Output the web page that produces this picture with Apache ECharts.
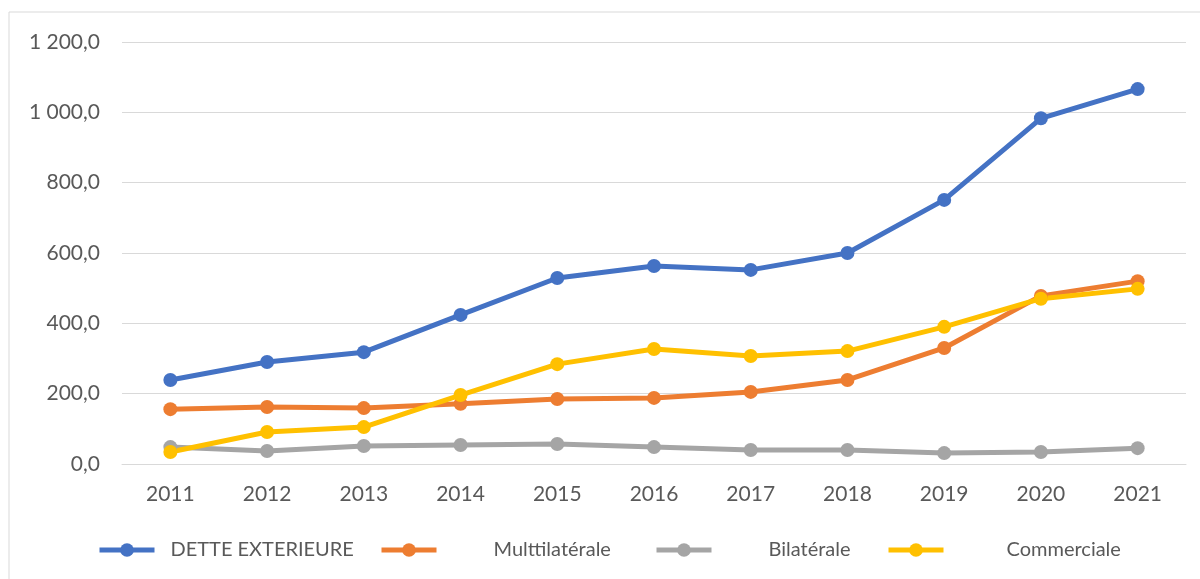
<!DOCTYPE html>
<html>
<head>
<meta charset="utf-8">
<script src="https://cdn.jsdelivr.net/npm/echarts@6/dist/echarts.min.js"></script>
<style>
  html, body { margin: 0; padding: 0; background: #fff; }
  #chart { width: 1200px; height: 579px; }
</style>
</head>
<body>
<div id="chart"></div>
<script>
var years = ['2011', '2012', '2013', '2014', '2015', '2016', '2017', '2018', '2019', '2020', '2021'];
var detteExterieure = [239, 290, 318, 424, 529, 563, 552, 600, 751, 983, 1066];
var multilaterale = [156, 162, 159, 171, 185, 188, 205, 239, 330, 478, 520];
var bilaterale = [48, 37, 51, 54, 57, 48, 40, 40, 31, 34, 45];
var commerciale = [34, 91, 105, 196, 284, 327, 307, 321, 390, 470, 498];

var names = ['DETTE EXTERIEURE', 'Multtilatérale', 'Bilatérale', 'Commerciale'];
var colors = ['#4472C4', '#ED7D31', '#A5A5A5', '#FFC000'];

var chart = echarts.init(document.getElementById('chart'));

// 1200 -> "1 200,0"
function fmt(v) {
  var parts = v.toFixed(1).split('.');
  parts[0] = parts[0].replace(/\B(?=(\d{3})+(?!\d))/g, ' ');
  return parts.join(',');
}

function mkLegend(i, left, pad) {
  return {
    data: [names[i]],
    left: left,
    top: 540,
    padding: 0,
    itemWidth: 55,
    itemHeight: 17,
    lineStyle: { width: 5 },
    textStyle: {
      color: '#595959',
      fontSize: 20,
      fontFamily: 'Lato',
      padding: [0, 0, 0, pad]
    }
  };
}

var series = [detteExterieure, multilaterale, bilaterale, commerciale].map(function (d, i) {
  return {
    name: names[i],
    type: 'line',
    data: d,
    symbol: 'circle',
    symbolSize: 14,
    lineStyle: { width: 5, color: colors[i] },
    itemStyle: { color: colors[i] },
    emphasis: { disabled: true }
  };
});

var option = {
  animation: false,
  color: colors,
  graphic: [{
    type: 'rect',
    shape: { x: 9, y: 12, width: 1200, height: 600 },
    style: { fill: 'none', stroke: '#d9d9d9', lineWidth: 1 }
  }],
  legend: [
    mkLegend(0, 97, 11),
    mkLegend(1, 379, 52),
    mkLegend(2, 654, 52),
    mkLegend(3, 886, 58)
  ],
  grid: {
    left: 122,
    right: 14,
    top: 42,
    bottom: 115
  },
  xAxis: {
    type: 'category',
    data: years,
    boundaryGap: true,
    axisLine: { lineStyle: { color: '#d9d9d9', width: 1 } },
    axisTick: { show: false },
    axisLabel: { color: '#595959', fontSize: 21, fontFamily: 'Lato', margin: 20 }
  },
  yAxis: {
    type: 'value',
    min: 0,
    max: 1200,
    interval: 200,
    axisLine: { show: false },
    axisTick: { show: false },
    splitLine: { lineStyle: { color: '#d9d9d9', width: 1 } },
    axisLabel: {
      color: '#595959',
      fontSize: 21,
      fontFamily: 'Lato',
      margin: 22,
      formatter: fmt
    }
  },
  series: series
};

chart.setOption(option);
</script>
</body>
</html>
